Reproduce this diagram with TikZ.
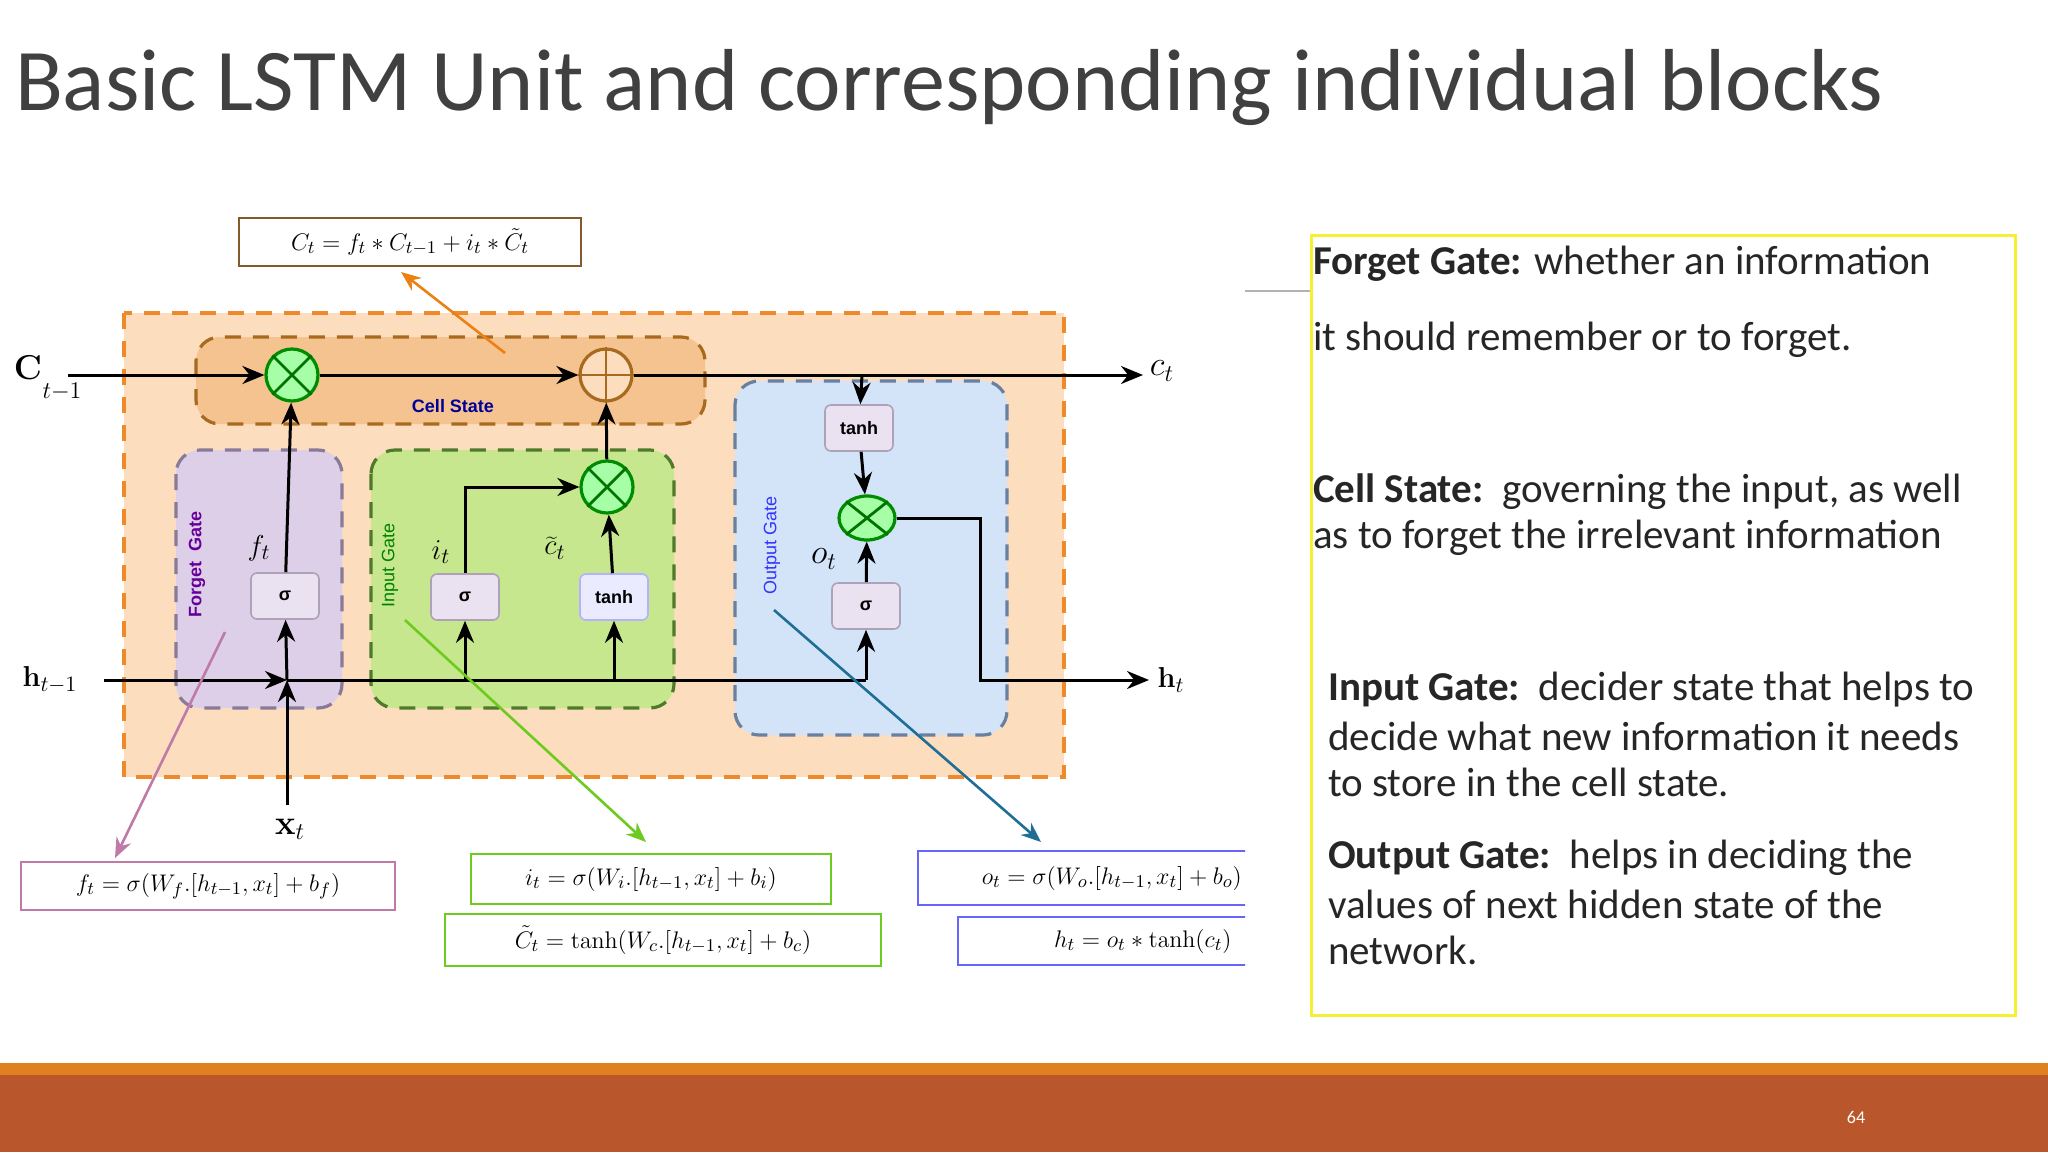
\documentclass[tikz,border=0pt]{standalone}
\usepackage[no-math]{fontspec}
\setmainfont{Carlito}
\newfontfamily\lsans{Liberation Sans}
\usetikzlibrary{arrows.meta,calc,shapes.geometric}
\definecolor{outerfill}{HTML}{FCDDBE}
\definecolor{outerdraw}{HTML}{EE8A2A}
\definecolor{cellfill}{HTML}{F5C38F}
\definecolor{celldraw}{HTML}{A86A1E}
\definecolor{fgfill}{HTML}{DDCFE8}
\definecolor{fgdraw}{HTML}{8A7A9A}
\definecolor{igfill}{HTML}{C6E78E}
\definecolor{igdraw}{HTML}{4F7A2A}
\definecolor{ogfill}{HTML}{D3E4F8}
\definecolor{ogdraw}{HTML}{6A80A0}
\definecolor{barorange}{HTML}{E1801F}
\definecolor{barrust}{HTML}{B9562B}
\definecolor{titlegray}{HTML}{404040}
\definecolor{yel}{HTML}{F5F032}
\definecolor{pinkar}{HTML}{C07AA8}
\definecolor{greenar}{HTML}{6CCB1E}
\definecolor{bluear}{HTML}{1F6E96}
\tikzset{
 gate/.style={rounded corners=12pt,dashed,dash pattern=on 8pt off 6pt,line width=1.6pt},
 act/.style={draw=fgdraw!70,fill=fgfill!60,rounded corners=3pt,minimum width=34pt,minimum height=23pt,font=\lsans\bfseries\small,line width=0.8pt},
 mul/.style={circle,draw=green!55!black,fill=green!35!white,line width=1.6pt,minimum size=26pt,inner sep=0pt},
 sumc/.style={circle,draw=celldraw,fill=outerfill,line width=1.6pt,minimum size=26pt,inner sep=0pt},
 ar/.style={-{Stealth[length=11pt,width=9pt]},line width=1.5pt},
 ln/.style={line width=1.5pt},
 eq/.style={draw,line width=0.8pt,fill=white,inner sep=0pt,font=\fontsize{13}{15}\selectfont},
 lab/.style={font=\fontsize{15}{17}\selectfont},
 body/.style={anchor=west,font=\fontsize{20.5}{23}\selectfont,text=black!85},
 ptr/.style={-{Stealth[length=10pt,width=8pt]},line width=1.3pt}
}
\begin{document}
\begin{tikzpicture}[x=0.5pt,y=-0.5pt]
\useasboundingbox (0,0) rectangle (2048,1152);
\fill[white] (0,0) rectangle (2048,1152);
% title
\node[anchor=west,text=titlegray,font=\fontsize{44}{50}\selectfont] (title) at (8,88) {Basic LSTM Unit and corresponding individual blocks};
% bottom bars
\fill[barorange] (0,1063) rectangle (2048,1075);
\fill[barrust] (0,1075) rectangle (2048,1152);
\node[text=white,font=\fontsize{9}{10}\selectfont] (pg) at (1856,1117) {64};
% gates
\draw[gate,draw=outerdraw,fill=outerfill,rounded corners=0pt] (124,313) rectangle (1064,777);
\draw[gate,draw=celldraw,fill=cellfill] (196,337) rectangle (705,424);
\draw[gate,draw=fgdraw,fill=fgfill] (176,450) rectangle (342,708);
\draw[gate,draw=igdraw,fill=igfill] (371,450) rectangle (674,708);
\draw[gate,draw=ogdraw,fill=ogfill] (735,381) rectangle (1007,735);
\node[text=blue!60!black,font=\lsans\bfseries\small] (cs) at (453,406) {Cell State};
\node[rotate=90,text=violet!80!blue,font=\lsans\bfseries\small] (fg) at (197,564) {Forget\ \ Gate};
\node[rotate=90,text=green!50!black,font=\lsans\small] (ig) at (390,565) {Input Gate};
\node[rotate=90,text=blue!80,font=\lsans\small] (og) at (772,545) {Output Gate};
% operators
\node[mul] (m1) at (292,375) {};
\node[sumc] (p1) at (606,375) {};
\node[mul] (m2) at (607,487) {};
\node[mul,ellipse,minimum width=28pt,minimum height=22pt] (m3) at (867,518) {};
\foreach \n in {m1,m2,m3}{\draw[green!45!black,line width=1.4pt] (\n.north west)--(\n.south east) (\n.north east)--(\n.south west);}
\draw[celldraw,line width=1.4pt] (p1.north)--(p1.south) (p1.west)--(p1.east);
\node[act] (sf) at (285,596) {σ};
\node[act] (si) at (465,597) {σ};
\node[act,draw=blue!30,fill=blue!8] (ti) at (614,597) {tanh};
\node[act] (to) at (859,428) {tanh};
\node[act] (so) at (866,606) {σ};
% input/output labels
\node[lab,font=\fontsize{18}{20}\selectfont] (cprev) at (28,368) {$\mathbf{C}$};
\node[lab,font=\fontsize{12}{14}\selectfont] (cprevs) at (62,392) {$t{-}1$};
\node[lab] (hprev) at (50,680) {$\mathbf{h}_{t-1}$};
\node[lab,font=\fontsize{17}{19}\selectfont] (xt) at (290,829) {$\mathbf{x}_t$};
\node[lab,font=\fontsize{17}{19}\selectfont] (ct) at (1162,371) {$c_t$};
\node[lab] (ht) at (1171,680) {$\mathbf{h}_t$};
\node[lab] (ft) at (259,548) {$f_t$};
\node[lab] (it) at (441,552) {$i_t$};
\node[lab] (ctl) at (555,548) {$\widetilde{c}_t$};
\node[lab,font=\fontsize{17}{19}\selectfont] (ot) at (824,559) {$o_t$};
% coordinates
\coordinate (cin) at (68,375);
\coordinate (br) at (862,375);
\coordinate (hin) at (104,680);
\coordinate (j1) at (287,680);
\coordinate (xin) at (287,805);
\coordinate (bi) at (465,680);
\coordinate (bt) at (614,680);
\coordinate (ho) at (866,680);
\coordinate (k1) at (980,518);
\coordinate (k2) at (980,680);
\coordinate (hout) at (1149,680);
\coordinate (cout) at (1143,375);
% connectors
\draw[ar] (cin) -- (m1);
\draw[ar] (m1) -- (p1);
\draw[ar] (p1) -- (cout);
\draw[ar] (br) -- (to);
\draw[ar] (hin) -- (j1);
\draw[ar] (xin) -- (j1);
\draw[ar] (j1) -- (sf);
\draw[ar] (sf) -- (m1);
\draw[ln] (j1) -- (ho);
\draw[ar] (bi) -- (si);
\draw[ar] (bt) -- (ti);
\draw[ar] (si.north) |- (m2);
\draw[ar] (ti) -- (m2);
\draw[ar] (m2) -- (p1);
\draw[ar] (ho) -- (so);
\draw[ar] (so) -- (m3);
\draw[ar] (to) -- (m3);
\draw[ar] (m3) -- (k1) -- (k2) -- (hout);
% formulas
\node[eq,draw=brown!70!black,minimum width=171pt,minimum height=24pt] (eqc) at (410,242) {$C_t = f_t * C_{t-1} + i_t * \tilde{C}_t$};
\node[eq,draw=pinkar,minimum width=187pt,minimum height=24pt] (eqf) at (208,886) {$f_t = \sigma(W_f.[h_{t-1},x_t] + b_f)$};
\node[eq,draw=greenar,minimum width=180pt,minimum height=25pt] (eqi) at (651,879) {$i_t = \sigma(W_i.[h_{t-1},x_t] + b_i)$};
\node[eq,draw=greenar,minimum width=218pt,minimum height=26pt] (eqct) at (663,940) {$\tilde{C}_t = \tanh(W_c.[h_{t-1},x_t] + b_c)$};
\begin{scope}
\clip (900,840) rectangle (1245,980);
\node[eq,draw=blue!60,minimum width=190pt,minimum height=27pt,anchor=west] (eqo) at (917,878) {\hspace{4pt}$o_t = \sigma(W_o.[h_{t-1},x_t] + b_o)$\hspace{4pt}};
\node[eq,draw=blue!60,minimum width=160pt,minimum height=24pt,anchor=west] (eqh) at (957,941) {\hspace{25pt}$h_t = o_t * \tanh(c_t)$\hspace{30pt}};
\end{scope}
% pointer arrows
\coordinate (a1) at (505,353); \coordinate (a2) at (225,632);
\coordinate (a3) at (405,620); \coordinate (a4) at (774,610);
\coordinate (e1) at (401,272); \coordinate (e2) at (115,858);
\coordinate (e3) at (646,842); \coordinate (e4) at (1041,842);
\draw[ptr,draw=orange!70!brown] (a1) -- (e1);
\draw[ptr,draw=pinkar] (a2) -- (e2);
\draw[ptr,draw=greenar] (a3) -- (e3);
\draw[ptr,draw=bluear] (a4) -- (e4);
% right text
\draw[gray!60,line width=0.8pt] (1245,291) -- (1311,291);
\draw[yel,line width=1.5pt] (1311,235) rectangle (2015,1015);
\node[body] (t1) at (1306,264) {\textbf{Forget Gate:} whether an information};
\node[body] (t2) at (1306,340) {it should remember or to forget.};
\node[body] (t3) at (1306,492) {\textbf{Cell State:}\ \ governing the input, as well};
\node[body] (t4) at (1306,538) {as to forget the irrelevant information};
\node[body] (t5) at (1321,690) {\textbf{Input Gate:}\ \ decider state that helps to};
\node[body] (t6) at (1321,736) {decide what new information it needs};
\node[body] (t7) at (1321,782) {to store in the cell state.};
\node[body] (t8) at (1321,858) {\textbf{Output Gate:}\ \ helps in deciding the};
\node[body] (t9) at (1321,904) {values of next hidden state of the};
\node[body] (t10) at (1321,950) {network.};
\end{tikzpicture}
\end{document}
